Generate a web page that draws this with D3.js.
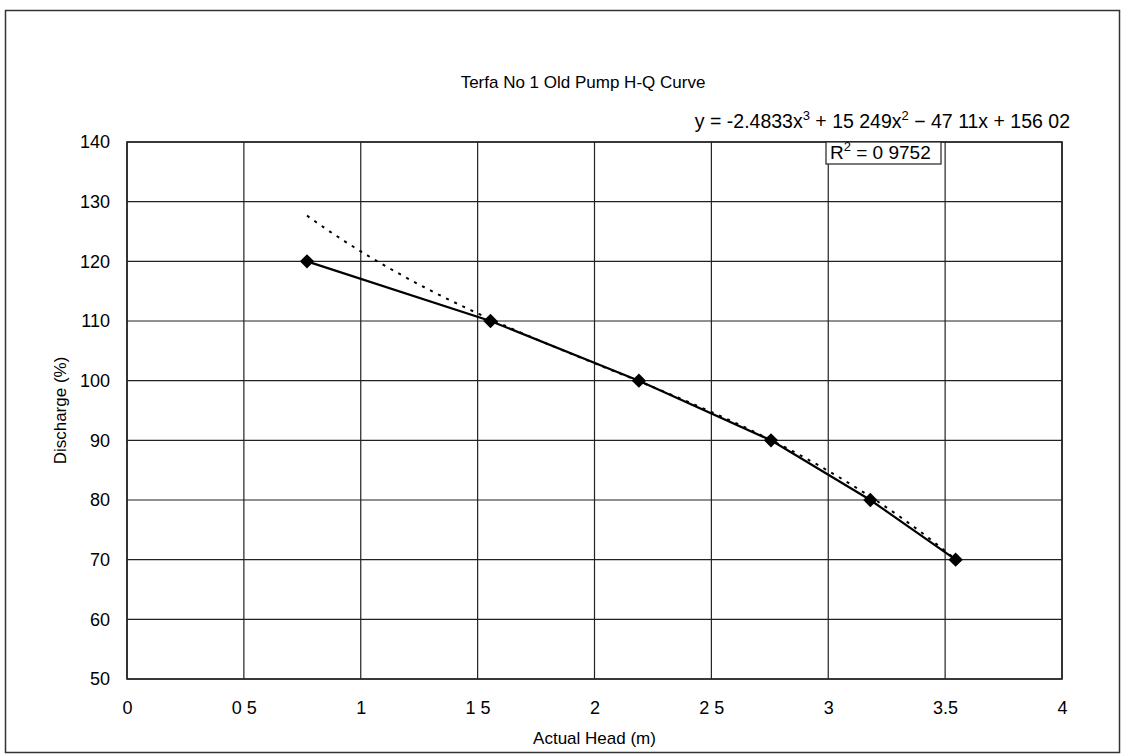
<!DOCTYPE html>
<html>
<head>
<meta charset="utf-8">
<script src="https://cdn.jsdelivr.net/npm/d3@7"></script>
<style>
  body { margin: 0; background: #fff; }
  text { font-family: "Liberation Sans", Arial, sans-serif; fill: #000; }
</style>
</head>
<body>
<script>

// data
var headValues = [0.77, 1.555, 2.19, 2.755, 3.18, 3.545];
var dischargeValues = [120, 110, 100, 90, 80, 70];

// polynomial trendline coefficients shown on the chart (x^3, x^2, x, const)
var trendCoef = [-2.4833, 15.249, -47.11, 156.02];

var xTicks = [0, 0.5, 1, 1.5, 2, 2.5, 3, 3.5, 4];
var xTickLabels = ["0", "0 5", "1", "1 5", "2", "2 5", "3", "3.5", "4"];
var yTicks = [50, 60, 70, 80, 90, 100, 110, 120, 130, 140];

//page configuration
var width = 1126;
var height = 755;
var plotLeft = 127, plotTop = 142, plotRight = 1062, plotBottom = 679;

var svg = d3.select("body").append("svg")
    .attr("width", width)
    .attr("height", height);

//outer chart frame
svg.append("rect")
    .attr("x", 5.5).attr("y", 10.5)
    .attr("width", 1114).attr("height", 742)
    .attr("fill", "none")
    .attr("stroke", "#333")
    .attr("stroke-width", 1.5);

var x = d3.scaleLinear().domain([0, 4]).range([plotLeft, plotRight]);
var y = d3.scaleLinear().domain([50, 140]).range([plotBottom, plotTop]);

//grid lines
var grid = svg.append("g");
grid.selectAll("line.v")
    .data(xTicks)
    .enter().append("line")
    .attr("x1", function(d) { return x(d); })
    .attr("x2", function(d) { return x(d); })
    .attr("y1", plotTop).attr("y2", plotBottom)
    .attr("stroke", "#222").attr("stroke-width", 1.2);
grid.selectAll("line.h")
    .data(yTicks)
    .enter().append("line")
    .attr("y1", function(d) { return y(d); })
    .attr("y2", function(d) { return y(d); })
    .attr("x1", plotLeft).attr("x2", plotRight)
    .attr("stroke", "#222").attr("stroke-width", 1.2);

//plot border
svg.append("rect")
    .attr("x", plotLeft).attr("y", plotTop)
    .attr("width", plotRight - plotLeft).attr("height", plotBottom - plotTop)
    .attr("fill", "none")
    .attr("stroke", "#222").attr("stroke-width", 1.6);

//axes (labels only, no tick marks)
var xAxis = d3.axisBottom(x)
    .tickValues(xTicks)
    .tickFormat(function(d, i) { return xTickLabels[i]; })
    .tickSize(0).tickPadding(22);
svg.append("g")
    .attr("transform", "translate(0," + plotBottom + ")")
    .call(xAxis)
    .call(function(g) { g.select(".domain").remove(); })
    .selectAll("text")
    .style("font-size", "18px")
    .style("font-family", "Liberation Sans, Arial, sans-serif");

var yAxis = d3.axisLeft(y)
    .tickValues(yTicks)
    .tickSize(0).tickPadding(17);
svg.append("g")
    .attr("transform", "translate(" + plotLeft + ",0)")
    .call(yAxis)
    .call(function(g) { g.select(".domain").remove(); })
    .selectAll("text")
    .style("font-size", "18px")
    .style("font-family", "Liberation Sans, Arial, sans-serif");

//polynomial trendline (dotted)
function trend(h) {
  return trendCoef[0] * h * h * h + trendCoef[1] * h * h + trendCoef[2] * h + trendCoef[3];
}
var trendX = d3.range(headValues[0], headValues[headValues.length - 1] + 0.001, 0.02);
svg.append("path")
    .datum(trendX)
    .attr("fill", "none")
    .attr("stroke", "#000")
    .attr("stroke-width", 2)
    .attr("stroke-dasharray", "3,6")
    .attr("d", d3.line()
        .x(function(d) { return x(d); })
        .y(function(d) { return y(trend(d)); }));

//data line
var points = headValues.map(function(h, i) { return [h, dischargeValues[i]]; });
svg.append("path")
    .datum(points)
    .attr("fill", "none")
    .attr("stroke", "#000")
    .attr("stroke-width", 2.2)
    .attr("d", d3.line()
        .x(function(d) { return x(d[0]); })
        .y(function(d) { return y(d[1]); }));

//diamond markers
svg.selectAll("path.marker")
    .data(points)
    .enter().append("path")
    .attr("class", "marker")
    .attr("transform", function(d) { return "translate(" + x(d[0]) + "," + y(d[1]) + ")"; })
    .attr("d", d3.symbol().type(d3.symbolDiamond2).size(130))
    .attr("fill", "#000");

//title
svg.append("text")
    .attr("x", 583).attr("y", 88)
    .attr("text-anchor", "middle")
    .style("font-size", "17px")
    .text("Terfa No 1 Old Pump H-Q Curve");

//equation label
var eq = svg.append("text")
    .attr("x", 1070).attr("y", 128)
    .attr("text-anchor", "end")
    .style("font-size", "19.5px");
eq.append("tspan").text("y = -2.4833x");
eq.append("tspan").attr("dy", -8).style("font-size", "13px").text("3");
eq.append("tspan").attr("dy", 8).text(" + 15 249x");
eq.append("tspan").attr("dy", -8).style("font-size", "13px").text("2");
eq.append("tspan").attr("dy", 8).text(" \u2212 47 11x + 156 02");

//R squared box
svg.append("rect")
    .attr("x", 826).attr("y", plotTop)
    .attr("width", 115).attr("height", 22)
    .attr("fill", "#fff")
    .attr("stroke", "#222").attr("stroke-width", 1.2);
var r2 = svg.append("text")
    .attr("x", 830).attr("y", 159)
    .style("font-size", "19px");
r2.append("tspan").text("R");
r2.append("tspan").attr("dy", -8).style("font-size", "13px").text("2");
r2.append("tspan").attr("dy", 8).text(" = 0 9752");

//axis titles
svg.append("text")
    .attr("x", (plotLeft + plotRight) / 2).attr("y", 744)
    .attr("text-anchor", "middle")
    .style("font-size", "17px")
    .text("Actual Head (m)");

svg.append("text")
    .attr("transform", "translate(66," + ((plotTop + plotBottom) / 2) + ") rotate(-90)")
    .attr("text-anchor", "middle")
    .style("font-size", "17px")
    .text("Discharge (%)");

</script>
</body>
</html>
